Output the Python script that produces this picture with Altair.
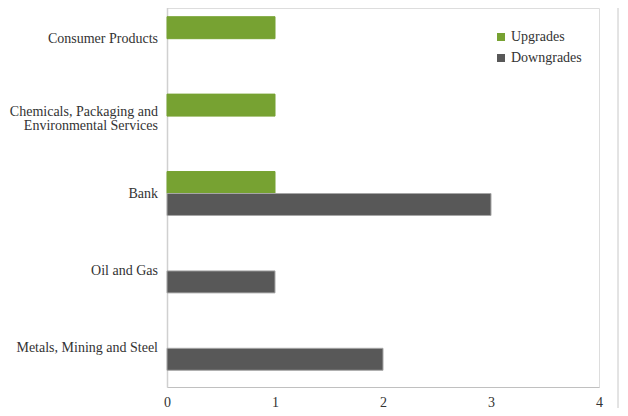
import altair as alt
import pandas as pd

categories = ["Consumer Products",
              "Chemicals, Packaging and Environmental Services",
              "Bank", "Oil and Gas", "Metals, Mining and Steel"]
series = ["Upgrades", "Downgrades"]
upgrades = [1, 1, 1, 0, 0]
downgrades = [0, 0, 3, 1, 2]
x_ticks = [0, 1, 2, 3, 4]
colors = ["#77a232", "#585858"]
strokes = ["#77a232", "#a6a6a6"]

rows = []
for c, u, d in zip(categories, upgrades, downgrades):
    rows.append({"category": c, "series": "Upgrades", "value": u})
    rows.append({"category": c, "series": "Downgrades", "value": d})
df = pd.DataFrame(rows)
df_bars = df[df["value"] > 0]

# axis label lines
chem = categories[1]
single = pd.DataFrame({"category": [c for c in categories if c != chem]})
single["text"] = single["category"]
top_line = pd.DataFrame({"category": [chem], "text": ["Chemicals, Packaging and"]})
bot_line = pd.DataFrame({"category": [chem], "text": ["Environmental Services"]})

FONT = "Liberation Serif"
FS = 14
W, H = 432, 379
TXT = "#333333"

yscale = alt.Scale(domain=categories, range=[-8, H], paddingInner=0.432, paddingOuter=0.216)

bars = alt.Chart(df_bars).mark_bar(strokeWidth=1).encode(
    x=alt.X("value:Q", scale=alt.Scale(domain=[0, 4], nice=False),
            axis=alt.Axis(values=x_ticks, title=None, grid=False, ticks=False,
                          domainColor="#c0c0c0", domainWidth=1, labelPadding=8,
                          labelFlush=False,
                          labelFont=FONT, labelFontSize=FS, labelColor=TXT,
                          format="d")),
    y=alt.Y("category:N", sort=categories, scale=yscale,
            axis=alt.Axis(title=None, ticks=False, labels=False,
                          domainColor="#d0d0d0", domainWidth=1.5)),
    yOffset=alt.YOffset("series:N", sort=series,
                        scale=alt.Scale(domain=series, paddingInner=0, paddingOuter=0)),
    color=alt.Color("series:N", sort=series,
                    scale=alt.Scale(domain=series, range=colors),
                    legend=alt.Legend(title=None, orient="none", legendX=327, legendY=22,
                                      symbolType="square", symbolSize=64,
                                      symbolStrokeWidth=0, rowPadding=7,
                                      labelFont=FONT, labelFontSize=FS,
                                      labelColor=TXT, labelOffset=3)),
    stroke=alt.Stroke("series:N", sort=series,
                      scale=alt.Scale(domain=series, range=strokes), legend=None),
)

def label_layer(data, dy):
    return alt.Chart(data).mark_text(align="right", baseline="middle", font=FONT,
                                     fontSize=FS, color=TXT, dy=dy).encode(
        x=alt.value(-9),
        y=alt.Y("category:N", sort=categories, scale=yscale),
        text="text:N",
    )

labels = label_layer(single, 0) + label_layer(top_line, -4) + label_layer(bot_line, 10)

border = alt.Chart(pd.DataFrame({"v": [0]})).mark_rule(color="#c8c8c8", strokeWidth=1).encode(
    x=alt.value(451), y=alt.value(-8), y2=alt.value(H + 30)
)

chart = alt.layer(bars, labels, border).properties(
    width=W, height=H,
    autosize=alt.AutoSizeParams(type="none"),
    padding={"left": 159, "top": 0, "right": 21, "bottom": 21},
).configure_view(stroke=None).configure(background="white")

chart.save("out.html", embed_options={"renderer": "svg", "actions": False})
